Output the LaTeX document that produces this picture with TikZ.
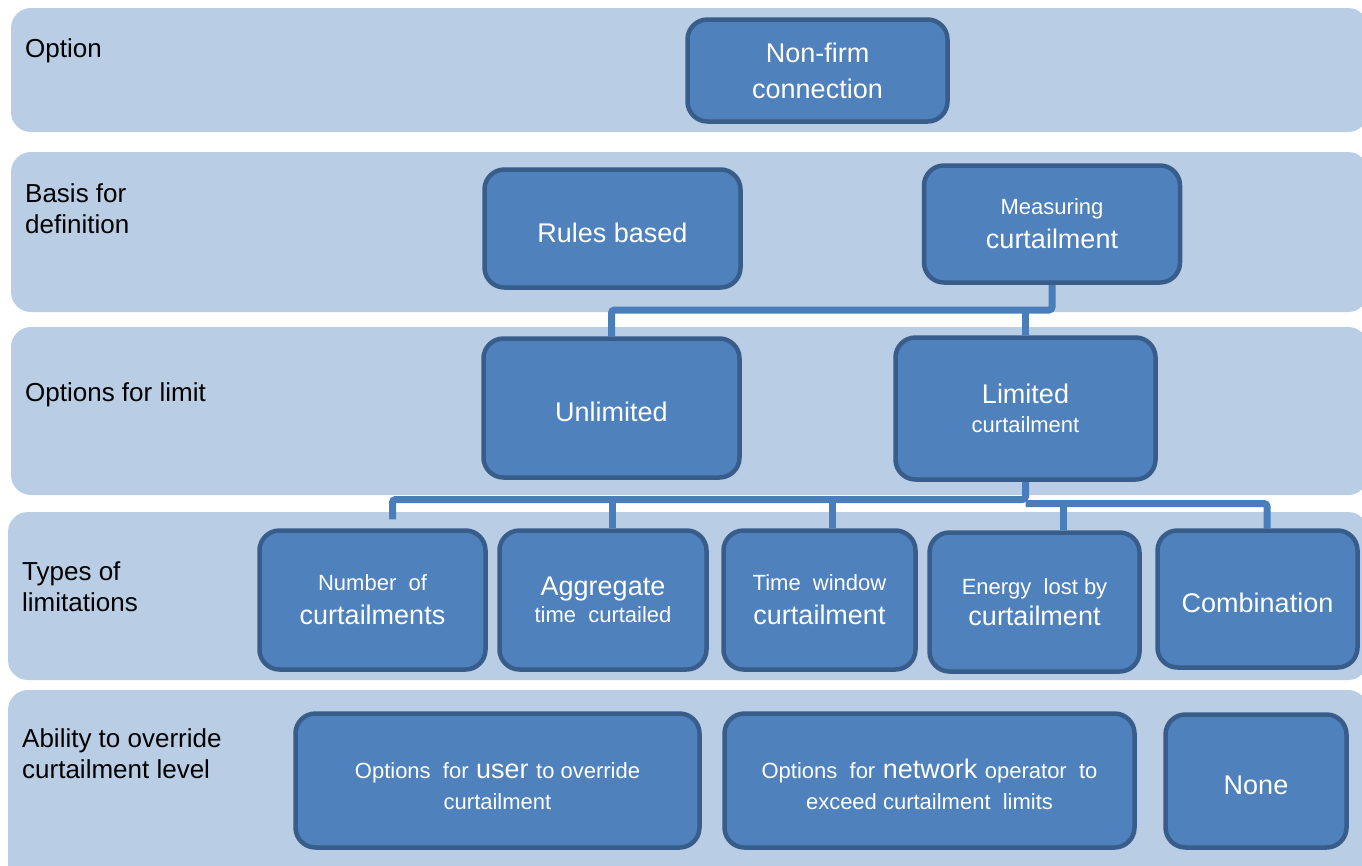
\documentclass[tikz,border=0pt]{standalone}
\usepackage{fontspec}
\setmainfont{Liberation Sans}
\definecolor{bandc}{HTML}{B9CDE5}
\definecolor{boxfill}{HTML}{4F81BD}
\definecolor{boxline}{HTML}{385D8A}
\definecolor{connc}{HTML}{4A7EBB}
\newcommand{\fsbig}{\fontsize{27pt}{34pt}\selectfont}
\newcommand{\fssmall}{\fontsize{22pt}{28pt}\selectfont}
\newcommand{\fslab}{\fontsize{26pt}{31pt}\selectfont}
\newcommand{\tallstrut}{\rule{0pt}{28pt}}
\pgfdeclarelayer{bandlayer}
\pgfdeclarelayer{connlayer}
\pgfsetlayers{bandlayer,connlayer,main}
\tikzset{
  bandst/.style={fill=bandc, rounded corners=20pt},
  boxst/.style={draw=boxline, line width=4.5pt, fill=boxfill, rounded corners=20pt,
    text=white, align=center, inner sep=0pt, font=\fsbig},
  oneline/.style={text height=27pt, text depth=0pt},
  labst/.style={anchor=base west, inner sep=0pt, font=\fslab, text=black},
  connst/.style={draw=connc, line width=7pt, rounded corners=3pt}
}
\begin{document}
\begin{tikzpicture}[x=1pt, y=-1pt]
\useasboundingbox (0,0) rectangle (1362,865);
% bands
\begin{pgfonlayer}{bandlayer}
\fill[bandst] (11,8) rectangle (1368,132);
\fill[bandst] (11,152) rectangle (1368,312);
\fill[bandst] (11,327) rectangle (1368,495);
\fill[bandst] (8,512) rectangle (1368,680);
\fill[bandst] (8,690) rectangle (1368,885);
\end{pgfonlayer}
% band labels
\node[labst] (lab1) at (25,57) {Option};
\node[labst] (lab2a) at (25,202) {Basis for};
\node[labst] (lab2b) at (25,233) {definition};
\node[labst] (lab3) at (25,401) {Options for limit};
\node[labst] (lab4a) at (22,580) {Types of};
\node[labst] (lab4b) at (22,611) {limitations};
\node[labst] (lab5a) at (22,747) {Ability to override};
\node[labst] (lab5b) at (22,778) {curtailment level};
% levels of connector runs
\coordinate (y1) at (0,310);
\coordinate (y2) at (0,499.5);
\coordinate (y3) at (0,503.5);
% boxes
\node[boxst, minimum width=260pt, minimum height=102pt] (nonfirm) at (817.5,70.5) {Non-firm\\[2pt]connection};
\node[boxst, oneline, minimum width=256pt, minimum height=118pt] (rules) at (612.5,228.5) {Rules based};
\node[boxst, minimum width=256pt, minimum height=117pt] (meas) at (1052,224) {{\fssmall Measuring}\\curtailment};
\node[boxst, oneline, minimum width=256pt, minimum height=139pt] (unlim) at (611.5,408) {Unlimited};
\node[boxst, minimum width=260pt, minimum height=142pt] (lim) at (1025.5,408.5) {Limited\\[-5pt]{\fssmall curtailment}};
\node[boxst, minimum width=226pt, minimum height=139pt] (numb) at (372.5,600) {{\fssmall Number\ \ of}\\curtailments};
\node[boxst, minimum width=207pt, minimum height=139pt] (aggr) at (603,600) {Aggregate\\[-7pt]{\fssmall time\ \ curtailed}};
\node[boxst, minimum width=192pt, minimum height=139pt] (timew) at (819.5,600) {{\fssmall Time\ \ window}\\curtailment};
\node[boxst, minimum width=210pt, minimum height=139pt] (energy) at (1034.5,602) {{\fssmall Energy\ \ lost by}\\[-3pt]curtailment};
\node[boxst, oneline, minimum width=200pt, minimum height=137pt] (comb) at (1257.5,599) {Combination};
\node[boxst, minimum width=404pt, minimum height=134pt] (user) at (497.5,780.5) {\tallstrut{\fssmall Options\ \ for} user {\fssmall to override}\\[-3pt]{\fssmall curtailment}};
\node[boxst, minimum width=410pt, minimum height=134pt] (network) at (929.5,780.5) {\tallstrut{\fssmall Options\ \ for} network {\fssmall operator\ \ to}\\[-3pt]{\fssmall exceed curtailment\ \ limits}};
\node[boxst, oneline, minimum width=181pt, minimum height=133pt] (none) at (1256,781) {None};
% connectors
\begin{pgfonlayer}{connlayer}
\draw[connst] (meas.south) -- (meas.south |- y1) -| (unlim.north);
\draw[connst] (lim.north |- y1) -- (lim.north);
\draw[connst] (lim.south) -- (lim.south |- y2) -| ([xshift=20pt,yshift=9pt]numb.north);
\draw[connst] (lim.south |- y3) -| ([xshift=9.5pt]comb.north);
\draw[connst] ([xshift=9pt]aggr.north |- y2) -- ([xshift=9pt]aggr.north);
\draw[connst] ([xshift=12.5pt]timew.north |- y2) -- ([xshift=12.5pt]timew.north);
\draw[connst] ([xshift=29pt]energy.north |- y3) -- ([xshift=29pt]energy.north);
\end{pgfonlayer}
\end{tikzpicture}
\end{document}
